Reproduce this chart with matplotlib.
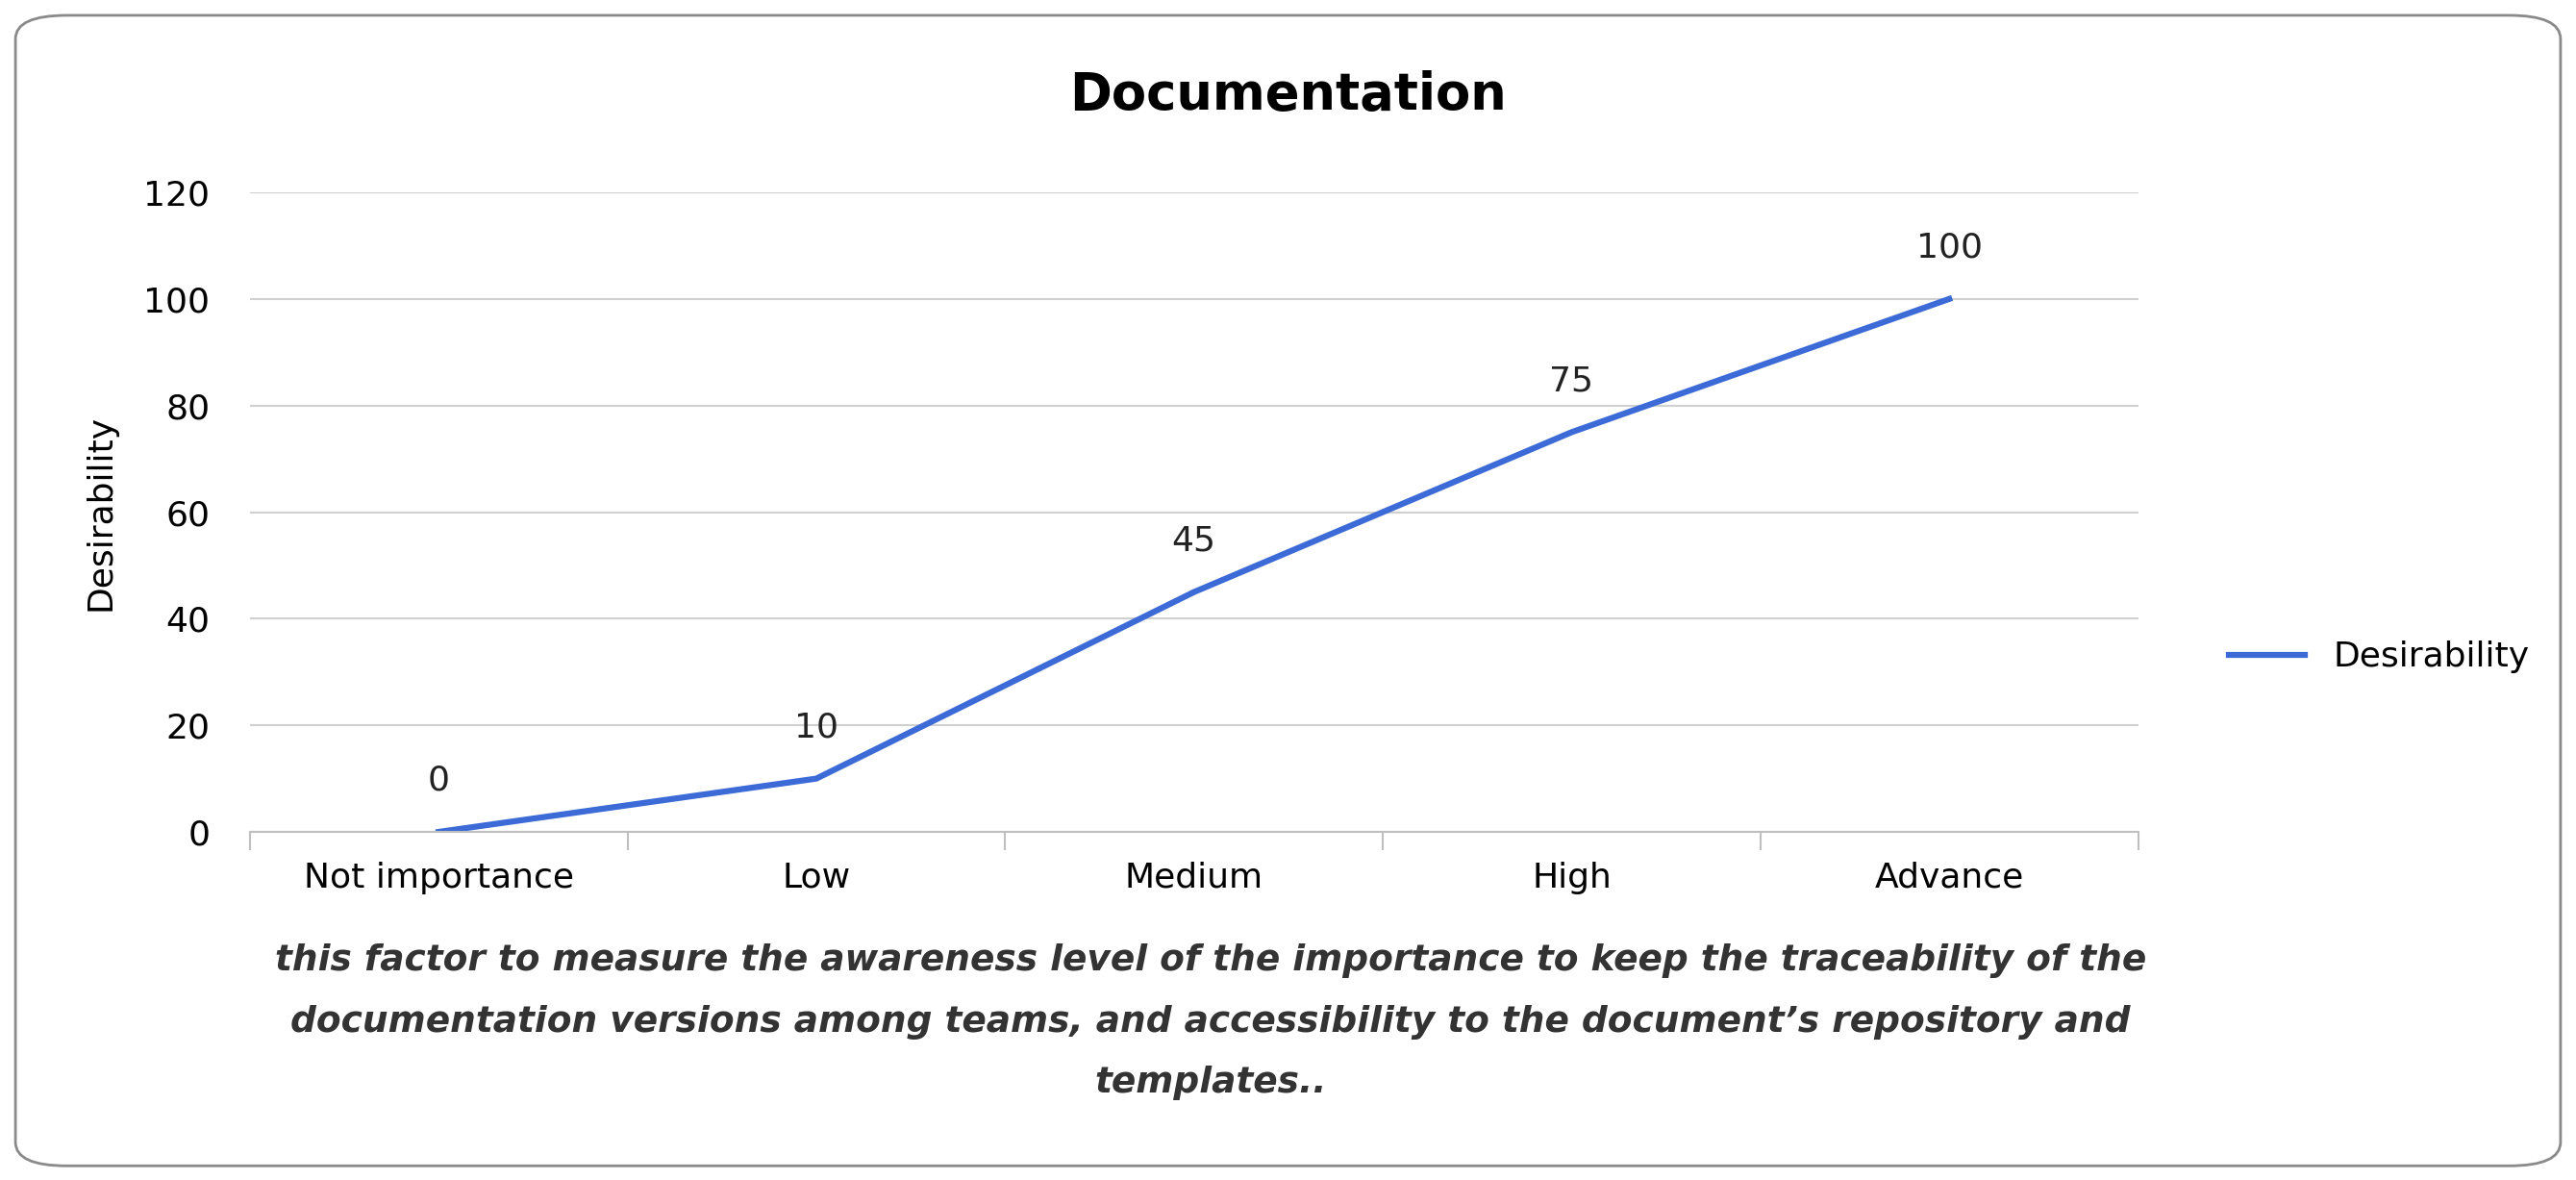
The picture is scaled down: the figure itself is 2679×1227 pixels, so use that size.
import numpy as np
import matplotlib.pyplot as plt
from matplotlib.patches import FancyBboxPatch

categories = ['Not importance', 'Low', 'Medium', 'High', 'Advance']
desirability = [0, 10, 45, 75, 100]
yticks = [0, 20, 40, 60, 80, 100, 120]

fig = plt.figure(figsize=(26.79, 12.27), dpi=100)
border = FancyBboxPatch((0.006, 0.012), 0.988, 0.975, boxstyle='round,pad=0,rounding_size=0.02',
                        transform=fig.transFigure, fill=False, edgecolor='#8a8a8a', linewidth=2)
fig.patches.append(border)

ax = fig.add_axes([0.097, 0.295, 0.733, 0.542])
x = np.arange(len(categories))
line, = ax.plot(x, desirability, color='#3C6AD6', linewidth=4.5, label='Desirability')
for xi, v in zip(x, desirability):
    ax.annotate(str(v), (xi, v), textcoords='offset points', xytext=(0, 26),
                ha='center', va='bottom', fontsize=26, color='#222222')

ax.set_xlim(-0.5, len(categories) - 0.5)
ax.set_ylim(0, 120)
ax.set_yticks(yticks)
ax.set_xticks(x)
ax.set_xticklabels(categories)
ax.set_xticks(np.arange(-0.5, len(categories)), minor=True)
ax.tick_params(axis='x', which='major', length=0, pad=22, labelsize=26)
ax.tick_params(axis='x', which='minor', length=14, color='#bfbfbf', width=1.5)
ax.tick_params(axis='y', length=0, pad=30, labelsize=26)
ax.grid(axis='y', color='#d0d0d0', linewidth=1.5)
for s in ['top', 'right', 'left']:
    ax.spines[s].set_visible(False)
ax.spines['bottom'].set_color('#bfbfbf')
ax.spines['bottom'].set_linewidth(1.5)
ax.set_ylabel('Desirability', fontsize=26, labelpad=20)

fig.text(0.5, 0.919, 'Documentation', ha='center', va='center', fontsize=38, fontweight='bold')
fig.legend(handles=[line], loc='center left', bbox_to_anchor=(0.853, 0.443), frameon=False,
           fontsize=26, handlelength=2.2)

caption = ['this factor to measure the awareness level of the importance to keep the traceability of the',
           'documentation versions among teams, and accessibility to the document\u2019s repository and',
           'templates..']
for i, t in enumerate(caption):
    fig.text(0.47, 0.186 - i * 0.052, t, ha='center', va='center', fontsize=27,
             fontweight='bold', fontstyle='italic', color='#333333')

fig.savefig('out.png', dpi=100)
